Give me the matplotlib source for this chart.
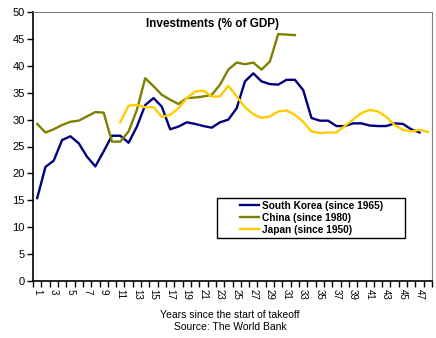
import numpy as np
import matplotlib
matplotlib.use('Agg')
import matplotlib.pyplot as plt
from matplotlib.patches import Rectangle

plt.rcParams['font.family'] = ['Liberation Sans', 'DejaVu Sans']

# years since the start of takeoff (category axis 1..48)
years = np.arange(1, 49)

korea = [15.4, 21.2, 22.4, 26.2, 26.9, 25.6, 23.1, 21.3, 24.1, 27.0,
         27.0, 25.7, 28.7, 32.7, 34.0, 32.4, 28.2, 28.7, 29.5, 29.2,
         28.8, 28.5, 29.5, 30.0, 32.1, 37.1, 38.6, 37.1, 36.6, 36.5,
         37.4, 37.4, 35.5, 30.3, 29.8, 29.8, 28.8, 28.8, 29.3, 29.3,
         28.9, 28.8, 28.8, 29.3, 29.2, 28.2, 27.6]
china = [29.2, 27.6, 28.2, 29.0, 29.6, 29.8, 30.6, 31.4, 31.3, 25.9,
         25.9, 27.8, 31.8, 37.7, 36.2, 34.6, 33.7, 32.9, 34.0, 34.1,
         34.3, 34.6, 36.5, 39.3, 40.6, 40.3, 40.6, 39.3, 40.8, 45.9,
         45.8, 45.7]
japan_start = 11
japan = [29.5, 32.6, 32.7, 32.3, 32.3, 30.5, 30.9, 32.1, 34.0, 35.2,
         35.4, 34.3, 34.3, 36.3, 34.3, 32.3, 31.0, 30.3, 30.6, 31.5,
         31.7, 30.9, 29.6, 27.8, 27.5, 27.6, 27.6, 28.8, 30.0, 31.2,
         31.8, 31.5, 30.5, 29.0, 28.1, 27.8, 28.1, 27.7]

fig = plt.figure(figsize=(4.36, 3.38), dpi=100)
ax = fig.add_axes([33 / 436, 1 - 281 / 338, 399 / 436, 269 / 338])

ax.plot(years[:len(korea)], korea, color='#000080', lw=1.7, label='South Korea (since 1965)')
ax.plot(years[:len(china)], china, color='#808000', lw=1.7, label='China (since 1980)')
ax.plot(years[japan_start - 1:japan_start - 1 + len(japan)], japan, color='#FFCC00', lw=1.7,
        label='Japan (since 1950)')

ax.set_xlim(0.5, 48.5)
ax.set_ylim(0, 50)
ax.set_yticks(np.arange(0, 51, 5))
ax.set_xticks(np.arange(0.5, 48.6, 1), minor=True)
ax.set_xticks(np.arange(1, 48, 2))
ax.set_xticklabels([str(v) for v in range(1, 48, 2)], rotation=-90, fontsize=7)
ax.tick_params(axis='x', which='major', length=0, pad=6)
ax.tick_params(axis='x', which='minor', length=4, width=1, direction='out')
ax.tick_params(axis='y', length=4, width=1, direction='out', labelsize=8, pad=2)

for s in ['top', 'right']:
    ax.spines[s].set_color('#808080')
for s in ['left', 'bottom']:
    ax.spines[s].set_color('black')
    ax.spines[s].set_linewidth(1.2)

ax.text(0.45, 0.955, 'Investments (% of GDP)', transform=ax.transAxes, ha='center', va='center',
        fontsize=8.5, fontweight='bold')

# legend box (drawn separately to get Excel-like side padding)
ax.add_patch(Rectangle(((217 - 33) / 399, (281 - 238) / 269), 188 / 399, 40 / 269,
                       transform=ax.transAxes, fill=True, facecolor='white',
                       edgecolor='black', lw=1, zorder=4))
leg = ax.legend(loc='center left', bbox_to_anchor=((240 - 33) / 399, (281 - 218) / 269),
                fontsize=7.3, frameon=False, handlelength=1.9, handletextpad=0.3,
                borderpad=0, labelspacing=0.2, borderaxespad=0)
leg.set_zorder(5)
for t in leg.get_texts():
    t.set_fontweight('bold')

fig.text(230 / 436, 1 - 315 / 338, 'Years since the start of takeoff', ha='center', va='center', fontsize=7.5)
fig.text(230 / 436, 1 - 327 / 338, 'Source: The World Bank', ha='center', va='center', fontsize=7.5)

fig.savefig('out.png', dpi=100)
